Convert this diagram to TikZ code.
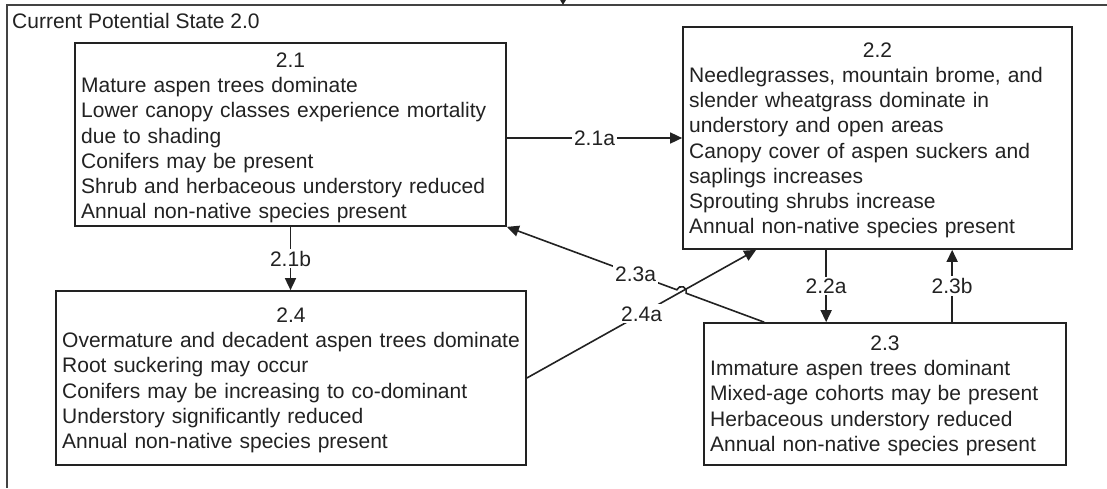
\documentclass[tikz,border=0pt]{standalone}
\usepackage{fontspec}
\setmainfont{Liberation Sans}
\usetikzlibrary{arrows.meta,calc,intersections}
\definecolor{ink}{HTML}{222222}
\begin{document}
\begin{tikzpicture}[x=1pt,y=1pt,
  every node/.style={font=\fontsize{21}{25.2}\selectfont, text=ink},
  stbox/.style={draw=ink, line width=1.7pt, inner sep=0pt},
  ttl/.style={anchor=base, inner sep=0pt},
  body/.style={anchor=base west, text width=480pt, align=left, inner sep=0pt},
  arr/.style={draw=ink, line width=1.6pt, -{Triangle[length=12pt,width=11pt]}},
  lbl/.style={fill=white, inner sep=2pt},
  frame/.style={draw=ink!85, line width=1.6pt}
]
\useasboundingbox (0,0) rectangle (1107,-488);
\fill[white] (0,0) rectangle (1107,-488);

% outer state frame
\draw[frame] (1107,-5) -- (7,-5) -- (7,-488);
\coordinate (topin) at (563,0);
\coordinate (topend) at (563,-5);
\draw[draw=ink, line width=1.6pt, -{Triangle[length=9pt,width=10pt]}] (topin) -- (topend);
\node[anchor=base west, inner sep=0pt] (cps) at (12,-28) {Current Potential State 2.0};

% boxes
\node[stbox, minimum width=431pt, minimum height=183pt] (b21) at (290.5,-134.5) {};
\node[stbox, minimum width=389pt, minimum height=222pt] (b22) at (877.5,-138) {};
\node[stbox, minimum width=470pt, minimum height=174pt] (b24) at (291,-378) {};
\node[stbox, minimum width=362pt, minimum height=142pt] (b23) at (885,-394) {};

% titles
\node[ttl] (t21) at (290.5,-67.5) {2.1};
\node[ttl] (t22) at (877.5,-57.5) {2.2};
\node[ttl] (t24) at (291,-322.5) {2.4};
\node[ttl] (t23) at (885,-350.5) {2.3};

% bodies
\node[body] (d21) at (81,-92.7) {Mature aspen trees dominate\\
Lower canopy classes experience mortality\\
due to shading\\
Conifers may be present\\
Shrub and herbaceous understory reduced\\
Annual non-native species present};
\node[body] (d22) at (689,-82.5) {Needlegrasses, mountain brome, and\\
slender wheatgrass dominate in\\
understory and open areas\\
Canopy cover of aspen suckers and\\
saplings increases\\
Sprouting shrubs increase\\
Annual non-native species present};
\node[body] (d24) at (62,-347.7) {Overmature and decadent aspen trees dominate\\
Root suckering may occur\\
Conifers may be increasing to co-dominant\\
Understory significantly reduced\\
Annual non-native species present};
\node[body] (d23) at (710,-375.7) {Immature aspen trees dominant\\
Mixed-age cohorts may be present\\
Herbaceous understory reduced\\
Annual non-native species present};

% connectors
\draw[arr] (b21.east |- b22.west) -- (b22.west) node[lbl, pos=0.5] (l21a) {2.1a};
\draw[arr] (b21.south) -- (b21.south |- b24.north) node[lbl, midway] (l21b) {2.1b};

\coordinate (c22a) at ($(b22.south west)+(144,0)$);
\draw[arr] (c22a) -- (c22a |- b23.north) node[lbl, midway] (l22a) {2.2a};
\coordinate (c23b) at ($(b23.north west)+(249,0)$);
\draw[arr] (c23b) -- (c23b |- b22.south) node[lbl, midway] (l23b) {2.3b};

\coordinate (e24a) at ($(b22.south west)+(74,0)$);
\coordinate (s23a) at ($(b23.north west)+(61,0)$);
\path[name path=p24a] (b24.east) -- (e24a);
\path[name path=p23a] (s23a) -- (b21.south east);
\path[name intersections={of=p24a and p23a, by=X}];
\coordinate (hA) at ($(X)!5pt!(s23a)$);

\draw[arr] (b24.east) -- (e24a);
\node[lbl] (l24a) at ($(b24.east)!0.5!(e24a)$) {2.4a};

\draw[arr] (s23a) -- (hA) arc[start angle=-20.5, end angle=159.5, radius=5pt] -- (b21.south east);
\node[lbl] (l23a) at ($(s23a)!0.5!(b21.south east)$) {2.3a};
\end{tikzpicture}
\end{document}
